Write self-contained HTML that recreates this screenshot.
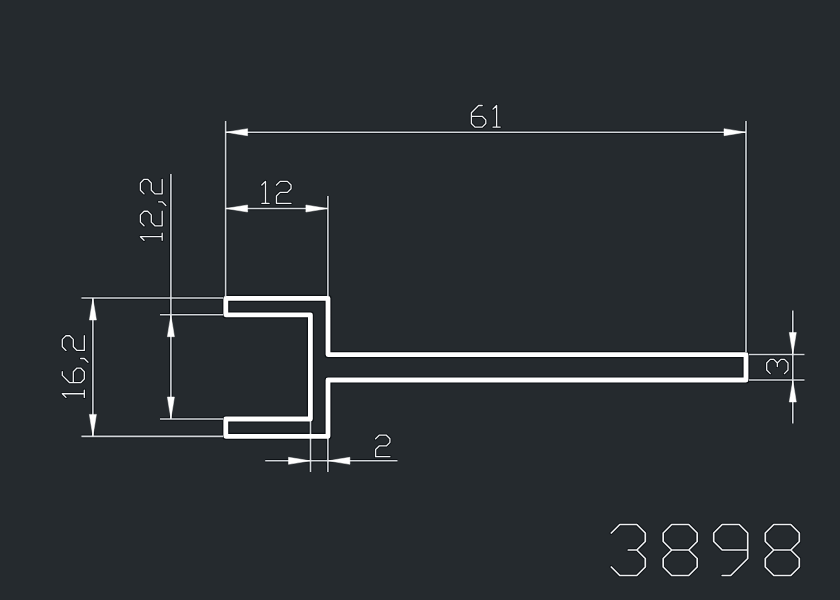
<!DOCTYPE html>
<html><head><meta charset="utf-8"><style>
html,body{margin:0;padding:0;background:#252a2e;}
body{width:840px;height:600px;overflow:hidden;font-family:"Liberation Sans",sans-serif;}
svg{display:block;}
</style></head><body>
<svg width="840" height="600" viewBox="0 0 840 600">
<rect width="840" height="600" fill="#252a2e"/>
<g stroke="#0c1014" fill="none" stroke-linejoin="round">
<path d="M225.6,121 L225.6,296 M746,121 L746,352 M225.6,132.2 L746,132.2 M327.9,196 L327.9,296 M225.6,208.5 L327.9,208.5 M170.9,174 L170.9,419 M160,314.7 L223,314.7 M160,419 L223,419 M92.9,298 L92.9,436.4 M81.4,298 L223,298 M81.4,436.4 L223,436.4 M310.5,421 L310.5,472 M327.9,438 L327.9,472 M265.2,460.8 L397.5,460.8 M792.8,310.5 L792.8,423.5 M749,354.5 L804.5,354.5 M749,380 L804.5,380" stroke-width="3.6"/>
<path d="M482.2,105.5 L478.6,105.5 L471.4,112.7 L471.4,123.5 L475,127.1 L482.2,127.1 L485.8,123.5 L485.8,119.9 L482.2,116.3 L471.4,116.3 M493,109.1 L496.6,105.5 L496.6,127.1 M493,127.1 L500.2,127.1 M261.85,185.05 L265.5,181.4 L265.5,203.3 M261.85,203.3 L269.15,203.3 M276.45,185.05 L280.1,181.4 L287.4,181.4 L291.05,185.05 L291.05,188.7 L287.4,192.35 L280.1,192.35 L276.45,196 L276.45,203.3 L291.05,203.3 M375.6,438.78 L379.18,435.2 L386.34,435.2 L389.92,438.78 L389.92,442.36 L386.34,445.94 L379.18,445.94 L375.6,449.52 L375.6,456.68 L389.92,456.68 M65.97,397.4 L62.3,393.73 L84.32,393.73 M84.32,397.4 L84.32,390.06 M62.3,371.71 L62.3,375.38 L69.64,382.72 L80.65,382.72 L84.32,379.05 L84.32,371.71 L80.65,368.04 L76.98,368.04 L73.31,371.71 L73.31,382.72 M80.65,358.5 L84.32,358.5 L87.99,362.17 M65.97,350.42 L62.3,346.75 L62.3,339.41 L65.97,335.74 L69.64,335.74 L73.31,339.41 L73.31,346.75 L76.98,350.42 L84.32,350.42 L84.32,335.74 M144.03,240.3 L140.4,236.67 L162.18,236.67 M162.18,240.3 L162.18,233.04 M144.03,225.78 L140.4,222.15 L140.4,214.89 L144.03,211.26 L147.66,211.26 L151.29,214.89 L151.29,222.15 L154.92,225.78 L162.18,225.78 L162.18,211.26 M158.55,201.82 L162.18,201.82 L165.81,205.45 M144.03,193.84 L140.4,190.21 L140.4,182.95 L144.03,179.32 L147.66,179.32 L151.29,182.95 L151.29,190.21 L154.92,193.84 L162.18,193.84 L162.18,179.32 M770.25,373.6 L766.7,370.05 L766.7,362.95 L770.25,359.4 L773.8,359.4 L777.35,362.95 L780.9,359.4 L784.45,359.4 L788,362.95 L788,370.05 L784.45,373.6 M777.35,366.5 L777.35,362.95" stroke-width="3.2" stroke-linecap="round"/>
<path d="M611.3,533 L619.8,524.5 L636.8,524.5 L645.3,533 L645.3,541.5 L636.8,550 L645.3,558.5 L645.3,567 L636.8,575.5 L619.8,575.5 L611.3,567 M628.3,550 L636.8,550 M671.7,550 L663.2,541.5 L663.2,533 L671.7,524.5 L688.7,524.5 L697.2,533 L697.2,541.5 L688.7,550 L671.7,550 L663.2,558.5 L663.2,567 L671.7,575.5 L688.7,575.5 L697.2,567 L697.2,558.5 L688.7,550 M722.2,575.5 L730.7,575.5 L747.7,558.5 L747.7,533 L739.2,524.5 L722.2,524.5 L713.7,533 L713.7,541.5 L722.2,550 L747.7,550 M773.8,550 L765.3,541.5 L765.3,533 L773.8,524.5 L790.8,524.5 L799.3,533 L799.3,541.5 L790.8,550 L773.8,550 L765.3,558.5 L765.3,567 L773.8,575.5 L790.8,575.5 L799.3,567 L799.3,558.5 L790.8,550" stroke-width="3.6" stroke-linecap="round"/>
<path d="M225.8,298.3 H328 V354.6 H746 V380 H328 V436.3 H225.8 V419 H310.4 V314.8 H225.8 Z" stroke-width="7.2"/>
</g>
<path d="M225.6,121 L225.6,296 M746,121 L746,352 M225.6,132.2 L746,132.2 M327.9,196 L327.9,296 M225.6,208.5 L327.9,208.5 M170.9,174 L170.9,419 M160,314.7 L223,314.7 M160,419 L223,419 M92.9,298 L92.9,436.4 M81.4,298 L223,298 M81.4,436.4 L223,436.4 M310.5,421 L310.5,472 M327.9,438 L327.9,472 M265.2,460.8 L397.5,460.8 M792.8,310.5 L792.8,423.5 M749,354.5 L804.5,354.5 M749,380 L804.5,380" stroke="#d2d6da" stroke-width="1.6" fill="none"/>
<path d="M225.6,132.2 L247.6,128.7 L247.6,135.7 Z M746,132.2 L724,128.7 L724,135.7 Z M225.6,208.5 L247.6,205 L247.6,212 Z M327.9,208.5 L305.9,205 L305.9,212 Z M170.9,314.7 L167.4,336.7 L174.4,336.7 Z M170.9,419 L167.4,397 L174.4,397 Z M92.9,298 L89.4,320 L96.4,320 Z M92.9,436.4 L89.4,414.4 L96.4,414.4 Z M310.5,460.8 L288.5,457.3 L288.5,464.3 Z M327.9,460.8 L349.9,457.3 L349.9,464.3 Z M792.8,354.5 L789.3,332.5 L796.3,332.5 Z M792.8,380 L789.3,402 L796.3,402 Z" fill="#ffffff" stroke="#ffffff" stroke-width="0.5" stroke-linejoin="miter"/>
<path d="M482.2,105.5 L478.6,105.5 L471.4,112.7 L471.4,123.5 L475,127.1 L482.2,127.1 L485.8,123.5 L485.8,119.9 L482.2,116.3 L471.4,116.3 M493,109.1 L496.6,105.5 L496.6,127.1 M493,127.1 L500.2,127.1 M261.85,185.05 L265.5,181.4 L265.5,203.3 M261.85,203.3 L269.15,203.3 M276.45,185.05 L280.1,181.4 L287.4,181.4 L291.05,185.05 L291.05,188.7 L287.4,192.35 L280.1,192.35 L276.45,196 L276.45,203.3 L291.05,203.3 M375.6,438.78 L379.18,435.2 L386.34,435.2 L389.92,438.78 L389.92,442.36 L386.34,445.94 L379.18,445.94 L375.6,449.52 L375.6,456.68 L389.92,456.68 M65.97,397.4 L62.3,393.73 L84.32,393.73 M84.32,397.4 L84.32,390.06 M62.3,371.71 L62.3,375.38 L69.64,382.72 L80.65,382.72 L84.32,379.05 L84.32,371.71 L80.65,368.04 L76.98,368.04 L73.31,371.71 L73.31,382.72 M80.65,358.5 L84.32,358.5 L87.99,362.17 M65.97,350.42 L62.3,346.75 L62.3,339.41 L65.97,335.74 L69.64,335.74 L73.31,339.41 L73.31,346.75 L76.98,350.42 L84.32,350.42 L84.32,335.74 M144.03,240.3 L140.4,236.67 L162.18,236.67 M162.18,240.3 L162.18,233.04 M144.03,225.78 L140.4,222.15 L140.4,214.89 L144.03,211.26 L147.66,211.26 L151.29,214.89 L151.29,222.15 L154.92,225.78 L162.18,225.78 L162.18,211.26 M158.55,201.82 L162.18,201.82 L165.81,205.45 M144.03,193.84 L140.4,190.21 L140.4,182.95 L144.03,179.32 L147.66,179.32 L151.29,182.95 L151.29,190.21 L154.92,193.84 L162.18,193.84 L162.18,179.32 M770.25,373.6 L766.7,370.05 L766.7,362.95 L770.25,359.4 L773.8,359.4 L777.35,362.95 L780.9,359.4 L784.45,359.4 L788,362.95 L788,370.05 L784.45,373.6 M777.35,366.5 L777.35,362.95" stroke="#eef0f2" stroke-width="1.3" fill="none" stroke-linejoin="round" stroke-linecap="round"/>
<path d="M611.3,533 L619.8,524.5 L636.8,524.5 L645.3,533 L645.3,541.5 L636.8,550 L645.3,558.5 L645.3,567 L636.8,575.5 L619.8,575.5 L611.3,567 M628.3,550 L636.8,550 M671.7,550 L663.2,541.5 L663.2,533 L671.7,524.5 L688.7,524.5 L697.2,533 L697.2,541.5 L688.7,550 L671.7,550 L663.2,558.5 L663.2,567 L671.7,575.5 L688.7,575.5 L697.2,567 L697.2,558.5 L688.7,550 M722.2,575.5 L730.7,575.5 L747.7,558.5 L747.7,533 L739.2,524.5 L722.2,524.5 L713.7,533 L713.7,541.5 L722.2,550 L747.7,550 M773.8,550 L765.3,541.5 L765.3,533 L773.8,524.5 L790.8,524.5 L799.3,533 L799.3,541.5 L790.8,550 L773.8,550 L765.3,558.5 L765.3,567 L773.8,575.5 L790.8,575.5 L799.3,567 L799.3,558.5 L790.8,550" stroke="#eef0f2" stroke-width="1.7" fill="none" stroke-linejoin="round" stroke-linecap="round"/>
<path d="M225.8,298.3 H328 V354.6 H746 V380 H328 V436.3 H225.8 V419 H310.4 V314.8 H225.8 Z" stroke="#ffffff" stroke-width="4.8" fill="none" stroke-linejoin="round"/>
</svg>
</body></html>
